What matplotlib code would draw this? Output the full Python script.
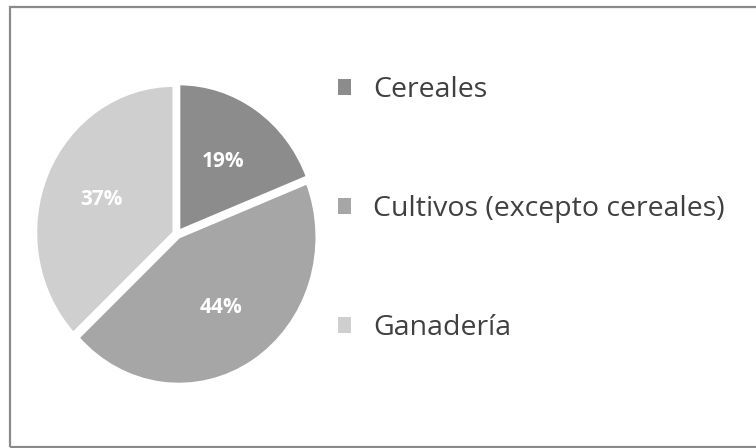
import matplotlib
matplotlib.use('Agg')
from matplotlib import pyplot as plt
from matplotlib.patches import Rectangle, Patch

labels = ['Cereales', 'Cultivos (excepto cereales)', 'Ganadería']
shares = [19, 44, 37]
colors = ['#8c8c8c', '#a6a6a6', '#cfcfcf']

plt.rcParams['font.family'] = ['Open Sans', 'DejaVu Sans']

W, H = 756, 448
fig = plt.figure(figsize=(W / 100, H / 100), dpi=100)

# frame round the chart
fig.patches.append(Rectangle((10 / W, 1 / H), 1.2, (446 - 6) / H, transform=fig.transFigure,
                             fill=False, edgecolor='#8a8a8a', linewidth=1.6))

# the reference pie is a little narrower than tall
cx, cy = 177, 234
rx, ry = 138, 147
lim = 1.04
ax = fig.add_axes([(cx - lim * rx) / W, (H - cy - lim * ry) / H, 2 * lim * rx / W, 2 * lim * ry / H])
wedges, texts, autotexts = ax.pie(
    shares, colors=colors, startangle=90, counterclock=False,
    explode=[0.025, 0.025, 0.025], autopct='%d%%', pctdistance=0.57,
    wedgeprops=dict(edgecolor='white', linewidth=2),
    textprops=dict(color='white', fontsize=15, fontweight='bold'))
ax.set_xlim(-lim, lim)
ax.set_ylim(-lim, lim)
ax.set_aspect('auto')

handles = [Patch(facecolor=c, edgecolor='none') for c in colors]
leg = fig.legend(handles, labels, loc='upper left', bbox_to_anchor=(338 / W, (H - 76) / H),
                 frameon=False, fontsize=20.5, labelspacing=3.2, handlelength=0.46,
                 handleheight=0.46, handletextpad=0.77, borderaxespad=0, borderpad=0)
for t in leg.get_texts():
    t.set_color('#404040')

fig.savefig('out.png', dpi=100)
